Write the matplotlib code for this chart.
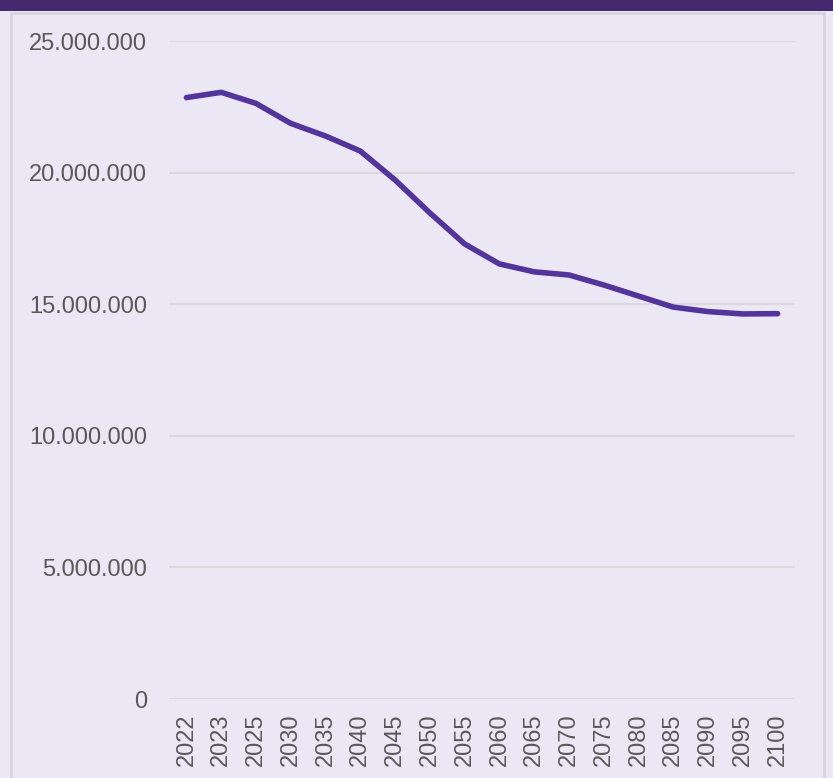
import matplotlib
matplotlib.use("Agg")
import matplotlib.pyplot as plt
from matplotlib.ticker import FuncFormatter
from matplotlib.patches import Rectangle

years = ["2022", "2023", "2025", "2030", "2035", "2040", "2045", "2050", "2055",
         "2060", "2065", "2070", "2075", "2080", "2085", "2090", "2095", "2100"]
population = [22850000, 23050000, 22630000, 21870000, 21390000, 20820000, 19720000,
              18470000, 17290000, 16530000, 16230000, 16110000, 15730000, 15310000,
              14890000, 14720000, 14630000, 14640000]
yticks = [0, 5000000, 10000000, 15000000, 20000000, 25000000]

plt.rcParams['font.family'] = ['Liberation Sans', 'DejaVu Sans']

bg = '#ebe7f5'
fig = plt.figure(figsize=(8.33, 7.78), dpi=100, facecolor=bg)

# top bar and panel border
fig.patches.append(Rectangle((0, 1 - 11/778), 1, 11/778, transform=fig.transFigure,
                             facecolor='#44296f', edgecolor='none', zorder=0))
fig.patches.append(Rectangle((11/833, -0.01), (824-11)/833, 1 - 13/778 + 0.01,
                             transform=fig.transFigure, facecolor='none',
                             edgecolor='#d9d5e0', linewidth=2, zorder=0))

ax = fig.add_axes([169/833, 1 - 699/778, (795-169)/833, (699-41)/778])
ax.set_facecolor(bg)
x = list(range(len(years)))
ax.plot(x, population, color='#52349a', linewidth=4.0, solid_capstyle='round',
        solid_joinstyle='round', zorder=3)
ax.set_xlim(-0.5, len(years) - 0.5)
ax.set_ylim(0, 25000000)
ax.set_yticks(yticks)
ax.yaxis.set_major_formatter(FuncFormatter(lambda v, p: f"{int(v):,}".replace(",", ".")))
ax.set_xticks(x)
ax.set_xticklabels(years, rotation=90)
ax.grid(axis='y', color='#dcd9de', linewidth=1.5, zorder=1)
ax.set_axisbelow(True)
for s in ax.spines.values():
    s.set_visible(False)
ax.tick_params(axis='both', length=0, labelsize=17, colors='#595959')
ax.tick_params(axis='y', pad=16)
ax.tick_params(axis='x', pad=10.5)

fig.savefig("out.png", dpi=100, facecolor=bg)
